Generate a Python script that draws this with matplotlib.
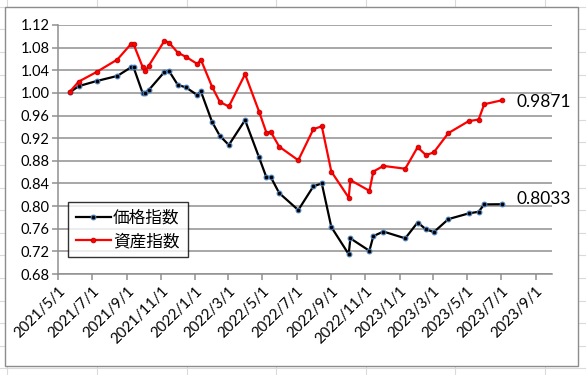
import matplotlib
matplotlib.use('Agg')
import matplotlib.pyplot as plt
import pandas as pd
from matplotlib.patches import Rectangle
from matplotlib.lines import Line2D

dates = ['2021-05-22', '2021-06-07', '2021-07-09', '2021-08-15', '2021-09-08', '2021-09-13',
         '2021-09-29', '2021-10-04', '2021-10-10', '2021-11-07', '2021-11-15', '2021-12-01',
         '2021-12-15', '2022-01-05', '2022-01-11', '2022-01-31', '2022-02-14', '2022-03-02',
         '2022-03-31', '2022-04-25', '2022-05-08', '2022-05-16', '2022-05-31', '2022-07-04',
         '2022-07-31', '2022-08-15', '2022-09-01', '2022-10-02', '2022-10-05', '2022-11-08',
         '2022-11-15', '2022-12-03', '2023-01-11', '2023-02-02', '2023-02-17', '2023-03-03',
         '2023-03-29', '2023-05-04', '2023-05-22', '2023-06-01', '2023-07-03']
price_index = [1.001, 1.012, 1.021, 1.030, 1.045, 1.045, 1.000, 1.000, 1.005, 1.037, 1.039,
               1.014, 1.010, 0.996, 1.003, 0.949, 0.924, 0.908, 0.952, 0.886, 0.851, 0.851,
               0.823, 0.793, 0.835, 0.840, 0.763, 0.715, 0.743, 0.721, 0.747, 0.755, 0.743,
               0.771, 0.759, 0.754, 0.777, 0.787, 0.790, 0.803, 0.8033]
asset_index = [1.002, 1.020, 1.037, 1.059, 1.086, 1.086, 1.046, 1.039, 1.048, 1.092, 1.089,
               1.071, 1.064, 1.051, 1.059, 1.011, 0.984, 0.976, 1.033, 0.967, 0.930, 0.931,
               0.905, 0.881, 0.936, 0.941, 0.861, 0.815, 0.846, 0.827, 0.861, 0.871, 0.866,
               0.904, 0.890, 0.895, 0.929, 0.950, 0.953, 0.980, 0.9871]
series_names = ['価格指数', '資産指数']
end_labels = ['0.8033', '0.9871']
y_ticks = [0.68, 0.72, 0.76, 0.80, 0.84, 0.88, 0.92, 0.96, 1.00, 1.04, 1.08, 1.12]

plt.rcParams['font.family'] = ['Lato', 'Noto Sans CJK JP', 'DejaVu Sans']

W, H = 586, 375
fig = plt.figure(figsize=(W / 100, H / 100), dpi=100)
fig.patch.set_facecolor('white')

# spreadsheet cell grid behind the chart
cell_color = '#dadada'
for xc in [7.4 + 89.6 * k for k in range(7)]:
    fig.add_artist(Line2D([xc / W, xc / W], [0, 1], color=cell_color, lw=0.8, zorder=0))
for yc in [6.8 + 22.6 * k for k in range(17)]:
    fig.add_artist(Line2D([0, 1], [1 - yc / H, 1 - yc / H], color=cell_color, lw=0.8, zorder=0))

# chart area
fig.add_artist(Rectangle((5 / W, 1 - 366 / H), (578 - 5) / W, (366 - 7) / H,
                         transform=fig.transFigure, facecolor='white',
                         edgecolor='#8c8c8c', lw=1.0, zorder=1))

ax = fig.add_axes([58 / W, 1 - 274 / H, (552 - 58) / W, (274 - 25) / H], zorder=2)
ax.set_facecolor('none')

x = pd.to_datetime(dates)
grid_c = '#8f8f8f'
ax.plot(x, price_index, color='black', lw=1.6, marker='o', markersize=3.4,
        markerfacecolor='black', markeredgecolor='#4a7ebb', markeredgewidth=0.8,
        label=series_names[0], zorder=4)
ax.plot(x, asset_index, color='#ff0000', lw=1.6, marker='o', markersize=3.4,
        markerfacecolor='#ff0000', markeredgecolor='#c00000', markeredgewidth=0.6,
        label=series_names[1], zorder=4)

ax.annotate(end_labels[0], (x[-1], price_index[-1]), xytext=(10, 3.5),
            textcoords='offset points', fontsize=12.5, va='center', ha='left')
ax.annotate(end_labels[1], (x[-1], asset_index[-1]), xytext=(10, -1),
            textcoords='offset points', fontsize=12.5, va='center', ha='left')

ax.set_ylim(0.68, 1.12)
ax.set_yticks(y_ticks)
ax.set_yticklabels([f'{v:.2f}' for v in y_ticks], fontsize=10.5)
ax.set_xlim(pd.Timestamp('2021-05-01'), pd.Timestamp('2023-09-30'))
xt = pd.date_range('2021-05-01', '2023-09-01', freq='2MS')
ax.set_xticks(xt)
ax.set_xticklabels([f'{d.year}/{d.month}/{d.day}' for d in xt], fontsize=10.8,
                   rotation=45, ha='right', rotation_mode='anchor')

ax.grid(axis='y', color=grid_c, lw=1.1)
ax.set_axisbelow(True)
for s in ['top', 'right']:
    ax.spines[s].set_visible(False)
for s in ['left', 'bottom']:
    ax.spines[s].set_color(grid_c)
    ax.spines[s].set_linewidth(1.1)
ax.tick_params(axis='both', direction='out', length=4, color=grid_c, width=1.1, pad=2)
ax.tick_params(axis='x', pad=3)

leg = ax.legend(loc='upper left', bbox_to_anchor=(68 / W, 1 - 262 / H, (188 - 68) / W, (262 - 202) / H),
                bbox_transform=fig.transFigure, mode='expand', fontsize=12, frameon=True,
                fancybox=False, edgecolor='black', borderpad=0.45, handlelength=2.1,
                handletextpad=0.15, labelspacing=0.45, borderaxespad=0)
leg.get_frame().set_linewidth(1.0)
leg.set_zorder(5)

fig.savefig('out.png', dpi=100)
